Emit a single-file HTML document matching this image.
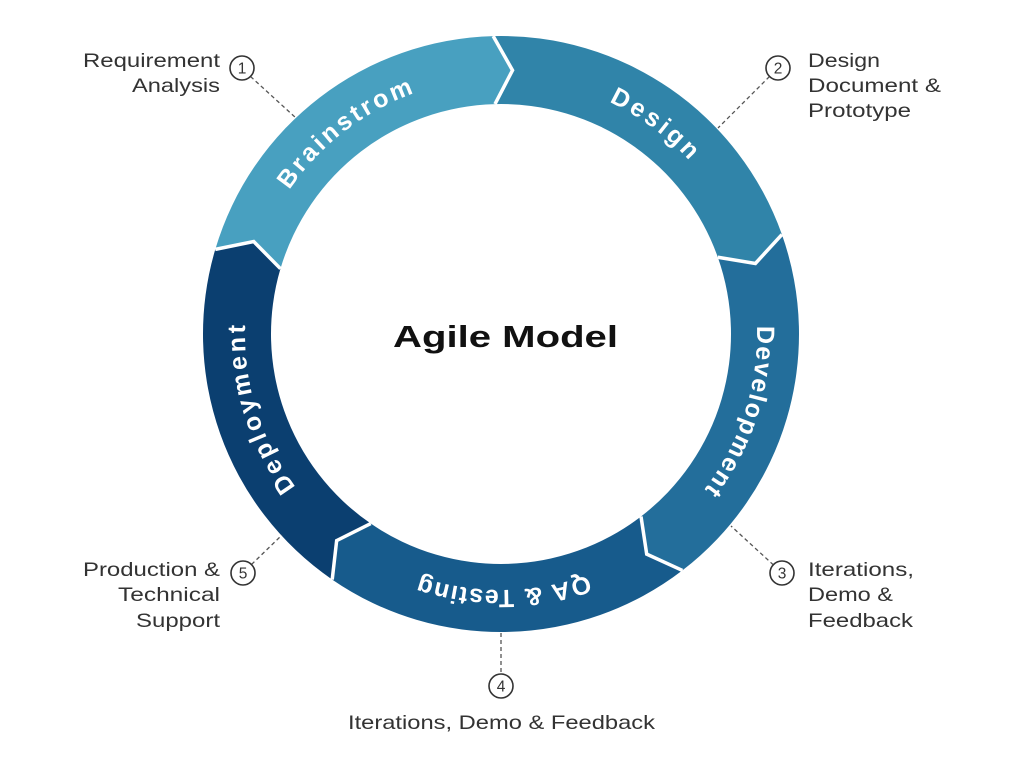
<!DOCTYPE html>
<html>
<head>
<meta charset="utf-8">
<style>
  html,body{margin:0;padding:0;background:#ffffff;}
  body{width:1024px;height:773px;overflow:hidden;}
  svg{display:block;}
  .ring{font-family:"Liberation Sans",sans-serif;font-weight:bold;font-size:25px;fill:#ffffff;}
  .lbl{font-family:"Liberation Sans",sans-serif;font-size:19.5px;fill:#333333;}
  .num{font-family:"Liberation Sans",sans-serif;font-size:15.5px;fill:#333;}
</style>
</head>
<body>
<svg width="1024" height="773" viewBox="0 0 1024 773" xmlns="http://www.w3.org/2000/svg">
  <defs>
    <path id="pB" d="M 251.07 278.59 A 256 256 0 0 1 512.17 78.24"/>
    <path id="pD" d="M 485.37 78.48 A 256 256 0 0 1 749.93 274.24"/>
    <path id="pV" d="M 738.36 238.10 A 256 256 0 0 1 636.66 551.10"/>
    <path id="pQ" d="M 667.26 528.66 A 256 256 0 0 1 338.16 531.53"/>
    <path id="pP" d="M 361.57 548.70 A 256 256 0 0 1 265.35 233.97"/>
  </defs>

  <!-- Ring segments -->
  <path fill="#48a0c0" d="M 215.27 249.36 A 298 298 0 0 1 493.20 36.10 L 512.52 70.25 L 494.98 104.08 A 230 230 0 0 0 280.47 268.68 L 253.72 241.54 Z"/>
  <path fill="#3084a9" d="M 493.20 36.10 A 298 298 0 0 1 781.91 234.52 L 755.40 263.45 L 717.81 257.22 A 230 230 0 0 0 494.98 104.08 L 512.52 70.25 Z"/>
  <path fill="#236e9b" d="M 781.91 234.52 A 298 298 0 0 1 682.41 570.42 L 646.71 554.15 L 641.01 516.47 A 230 230 0 0 0 717.81 257.22 L 755.40 263.45 Z"/>
  <path fill="#175b8c" d="M 682.41 570.42 A 298 298 0 0 1 332.21 579.59 L 336.66 540.61 L 370.73 523.55 A 230 230 0 0 0 641.01 516.47 L 646.71 554.15 Z"/>
  <path fill="#0b3f70" d="M 332.21 579.59 A 298 298 0 0 1 215.27 249.36 L 253.72 241.54 L 280.47 268.68 A 230 230 0 0 0 370.73 523.55 L 336.66 540.61 Z"/>

  <!-- White chevron separators -->
  <g fill="none" stroke="#ffffff" stroke-width="3.5" stroke-linejoin="miter">
    <polyline points="493.20,36.10 512.52,70.25 494.98,104.08"/>
    <polyline points="781.91,234.52 755.40,263.45 717.81,257.22"/>
    <polyline points="682.41,570.42 646.71,554.15 641.01,516.47"/>
    <polyline points="332.21,579.59 336.66,540.61 370.73,523.55"/>
    <polyline points="215.27,249.36 253.72,241.54 280.47,268.68"/>
  </g>

  <!-- Ring labels -->
  <text class="ring" letter-spacing="3"><textPath href="#pB" startOffset="50%" text-anchor="middle">Brainstrom</textPath></text>
  <text class="ring" letter-spacing="3.3"><textPath href="#pD" startOffset="50%" text-anchor="middle">Design</textPath></text>
  <text class="ring" letter-spacing="1.8"><textPath href="#pV" startOffset="50%" text-anchor="middle">Development</textPath></text>
  <text class="ring" letter-spacing="1.4"><textPath href="#pQ" startOffset="50%" text-anchor="middle">QA &amp; Testing</textPath></text>
  <text class="ring" letter-spacing="3.3"><textPath href="#pP" startOffset="50%" text-anchor="middle">Deployment</textPath></text>

  <!-- Center title -->
  <text x="393" y="347" font-family="Liberation Sans, sans-serif" font-weight="bold" font-size="31" fill="#111" textLength="225" lengthAdjust="spacingAndGlyphs">Agile Model</text>

  <!-- Dashed connectors -->
  <g stroke="#555" stroke-width="1.3" stroke-dasharray="4 3" fill="none">
    <line x1="250.5" y1="76.5" x2="296" y2="118"/>
    <line x1="769.5" y1="76.5" x2="718" y2="128"/>
    <line x1="773.5" y1="565" x2="731" y2="526"/>
    <line x1="501" y1="633" x2="501" y2="674"/>
    <line x1="251.5" y1="564.5" x2="282" y2="535"/>
  </g>

  <!-- Number circles -->
  <g fill="#ffffff" stroke="#333" stroke-width="1.6">
    <circle cx="242" cy="68" r="12"/>
    <circle cx="778" cy="68" r="12"/>
    <circle cx="782" cy="573" r="12"/>
    <circle cx="501" cy="686" r="12"/>
    <circle cx="243" cy="573" r="12"/>
  </g>
  <g class="num" text-anchor="middle">
    <text x="242" y="73.5">1</text>
    <text x="778" y="73.5">2</text>
    <text x="782" y="578.5">3</text>
    <text x="501" y="691.5">4</text>
    <text x="243" y="578.5">5</text>
  </g>

  <!-- Side labels (right-aligned) -->
  <g class="lbl" text-anchor="end">
    <text x="220" y="67" textLength="137" lengthAdjust="spacingAndGlyphs">Requirement</text>
    <text x="220" y="92" textLength="88" lengthAdjust="spacingAndGlyphs">Analysis</text>
    <text x="220" y="576" textLength="137" lengthAdjust="spacingAndGlyphs">Production &amp;</text>
    <text x="220" y="601" textLength="102" lengthAdjust="spacingAndGlyphs">Technical</text>
    <text x="220" y="627" textLength="84" lengthAdjust="spacingAndGlyphs">Support</text>
  </g>

  <!-- Side labels (left-aligned) -->
  <g class="lbl">
    <text x="808" y="67" textLength="72" lengthAdjust="spacingAndGlyphs">Design</text>
    <text x="808" y="92" textLength="133" lengthAdjust="spacingAndGlyphs">Document &amp;</text>
    <text x="808" y="117" textLength="103" lengthAdjust="spacingAndGlyphs">Prototype</text>
    <text x="808" y="576" textLength="106" lengthAdjust="spacingAndGlyphs">Iterations,</text>
    <text x="808" y="601" textLength="85" lengthAdjust="spacingAndGlyphs">Demo &amp;</text>
    <text x="808" y="627" textLength="105" lengthAdjust="spacingAndGlyphs">Feedback</text>
  </g>

  <!-- Bottom label -->
  <text class="lbl" x="348" y="729" font-size="18.5" textLength="307" lengthAdjust="spacingAndGlyphs">Iterations, Demo &amp; Feedback</text>
</svg>
</body>
</html>
